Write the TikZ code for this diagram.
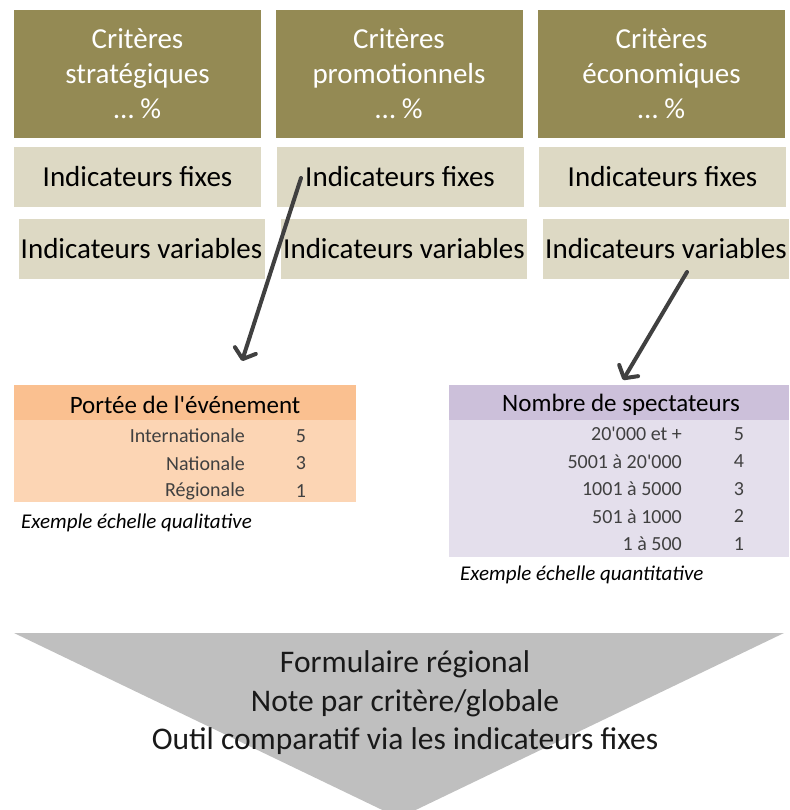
\documentclass[tikz,border=0pt]{standalone}
\usepackage{fontspec}
\setmainfont{Carlito}
\usetikzlibrary{arrows.meta}

\definecolor{critfill}{HTML}{948A54}
\definecolor{indfill}{HTML}{DDD9C4}
\definecolor{orangehead}{HTML}{FAC090}
\definecolor{orangebody}{HTML}{FCD5B4}
\definecolor{lilachead}{HTML}{CCC0DA}
\definecolor{lilacbody}{HTML}{E4DFEC}
\definecolor{funnelgray}{HTML}{BFBFBF}
\definecolor{arrowgray}{HTML}{404040}
\definecolor{rowtext}{HTML}{404040}

\begin{document}
\begin{tikzpicture}[x=1pt,y=-1pt,
  critbox/.style={fill=critfill, text=white, minimum width=247pt, minimum height=128pt,
    inner sep=0pt, align=center, font=\fontsize{29}{35}\selectfont},
  indbox/.style={fill=indfill, text=black, minimum width=247pt, minimum height=60pt,
    inner sep=0pt, font=\fontsize{29}{34}\selectfont},
  headbox/.style={minimum height=35pt, inner sep=0pt},
  headtext/.style={inner sep=0pt, font=\fontsize{25}{29}\selectfont},
  rowlabel/.style={anchor=east, inner sep=0pt, text=rowtext, font=\fontsize{20}{24}\selectfont},
  rowvalue/.style={anchor=center, inner sep=0pt, text=rowtext, font=\fontsize{20}{24}\selectfont},
  caption/.style={anchor=west, inner sep=0pt, font=\itshape\fontsize{21}{25}\selectfont},
  pointer/.style={draw=arrowgray, line width=4pt, line cap=round,
    -{Straight Barb[length=9pt,width=22pt,line width=4pt,round]}}
]
\useasboundingbox (0,0) rectangle (789,810);

% criteria headers
\node[critbox] (c1) at (137.5,74) {Critères\\stratégiques\\… \%};
\node[critbox] (c2) at (399,74) {Critères\\promotionnels\\… \%};
\node[critbox] (c3) at (661.5,74) {Critères\\économiques\\… \%};

% fixed indicators
\node[indbox] (f1) at (137.5,177) {Indicateurs fixes};
\node[indbox] (f2) at (400,177) {Indicateurs fixes};
\node[indbox] (f3) at (662.5,177) {Indicateurs fixes};

% variable indicators
\node[indbox, minimum width=246pt] (v1) at (141.5,249) {Indicateurs variables};
\node[indbox, minimum width=246pt] (v2) at (404,249) {Indicateurs variables};
\node[indbox, minimum width=246pt] (v3) at (666,249) {Indicateurs variables};

% qualitative scale
\node[headbox, fill=orangehead, minimum width=342pt] (h1) at (185,402.5) {};
\node[headtext] (h1t) at (185,405) {Portée de l\textquotesingle événement};
\node[fill=orangebody, minimum width=342pt, minimum height=82pt, inner sep=0pt] (b1) at (185,461) {};
\node[rowlabel] (q1) at (245,436) {Internationale};
\node[rowvalue] (q1v) at (301,436) {5};
\node[rowlabel] (q2) at (245,463.5) {Nationale};
\node[rowvalue] (q2v) at (301,463.5) {3};
\node[rowlabel] (q3) at (245,491) {Régionale};
\node[rowvalue] (q3v) at (301,491) {1};
\node[caption] (cap1) at (21,523) {Exemple échelle qualitative};

% quantitative scale
\node[headbox, fill=lilachead, minimum width=340pt] (h2) at (619,402.5) {};
\node[headtext] (h2t) at (621,405) {Nombre de spectateurs};
\node[fill=lilacbody, minimum width=340pt, minimum height=137pt, inner sep=0pt] (b2) at (619,488.5) {};
\node[rowlabel] (n1) at (682,434) {20\textquotesingle 000 et +};
\node[rowvalue] (n1v) at (739,434) {5};
\node[rowlabel] (n2) at (682,461.5) {5001 à 20\textquotesingle 000};
\node[rowvalue] (n2v) at (739,461.5) {4};
\node[rowlabel] (n3) at (682,489) {1001 à 5000};
\node[rowvalue] (n3v) at (739,489) {3};
\node[rowlabel] (n4) at (682,516.5) {501 à 1000};
\node[rowvalue] (n4v) at (739,516.5) {2};
\node[rowlabel] (n5) at (682,544) {1 à 500};
\node[rowvalue] (n5v) at (739,544) {1};
\node[caption] (cap2) at (460,575) {Exemple échelle quantitative};

% pointers from the indicators to the example scales
\coordinate (p1s) at (301,178);
\coordinate (p1e) at (242,361);
\coordinate (p2s) at (687,272);
\coordinate (p2e) at (623,380);
\draw[pointer] (p1s) -- (p1e);
\draw[pointer] (p2s) -- (p2e);

% result funnel
\coordinate (tl) at (14,633);
\coordinate (tr) at (784,633);
\coordinate (apex) at (399,818);
\fill[funnelgray] (tl) -- (tr) -- (apex) -- cycle;
\node[align=center, inner sep=0pt, text=black!90, font=\fontsize{31.5}{38.5}\selectfont] (res) at (405,703)
  {Formulaire régional\\Note par critère/globale\\Outil comparatif via les indicateurs fixes};
\end{tikzpicture}
\end{document}
